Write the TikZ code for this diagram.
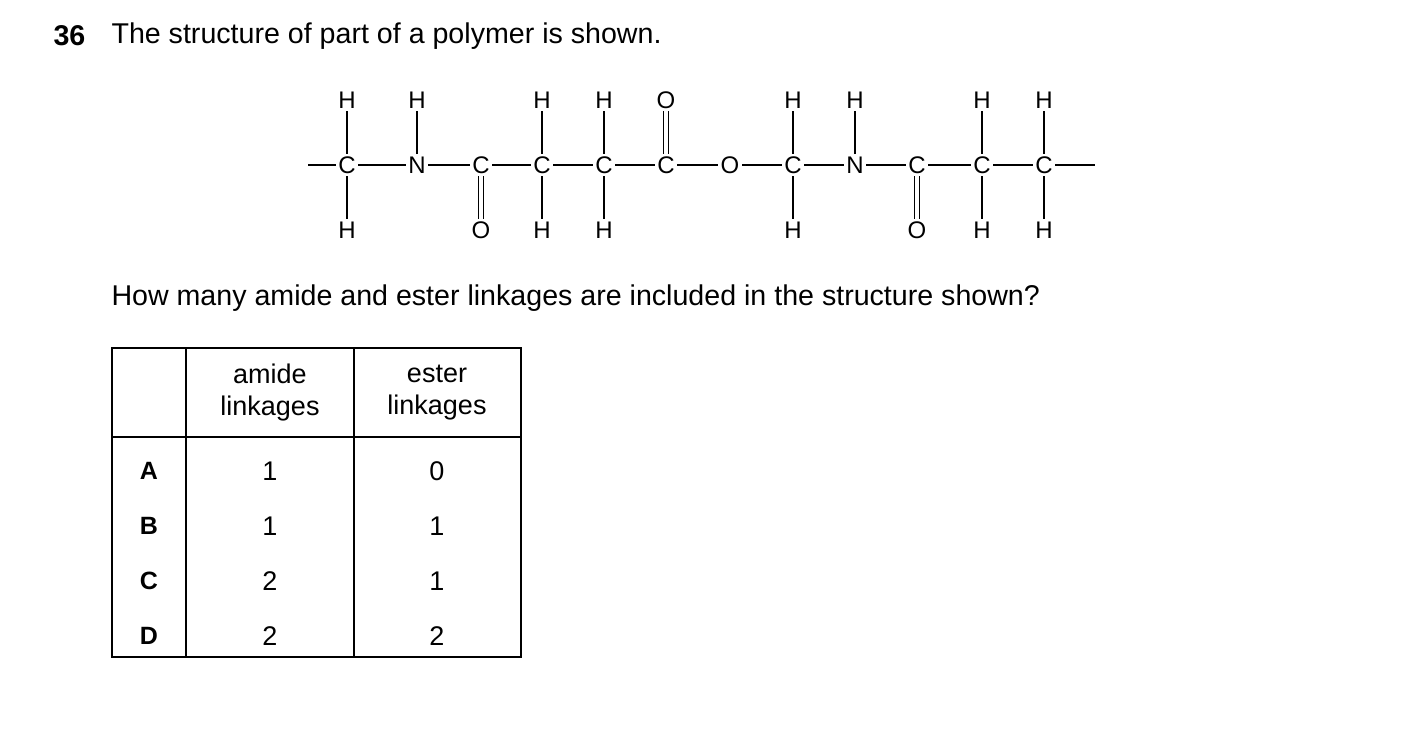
\documentclass[tikz,border=0pt]{standalone}
\usepackage{fontspec}
\setmainfont{Liberation Sans}
\begin{document}
\begin{tikzpicture}[x=1pt,y=-1pt,
 atm/.style={font=\fontsize{24}{26}\selectfont,inner sep=2.5pt},
 bd/.style={line width=1.3pt},
 tx/.style={font=\fontsize{28.6}{32}\selectfont,anchor=west},
 tb/.style={font=\fontsize{27}{32}\selectfont,align=center}]
\useasboundingbox (0,0) rectangle (1403,749);
\node[tx,font=\fontsize{28.6}{32}\selectfont\bfseries] (num) at (50,36) {36};
\node[tx] (q1) at (108,36) {The structure of part of a polymer is shown.};
\node[tx] (q2) at (108,298) {How many amide and ester linkages are included in the structure shown?};
% main chain
\def\ym{165}
\foreach \n/\x/\t in {a1/347/C,a2/417/N,a3/481/C,a4/542/C,a5/604/C,a6/666/C,a7/730/O,a8/793/C,a9/855/N,a10/917/C,a11/982/C,a12/1044/C}
  \node[atm] (\n) at (\x,\ym) {\t};
\coordinate (L) at (308,\ym); \coordinate (R) at (1095,\ym);
\draw[bd] (L) -- (a1);
\draw[bd] (a12) -- (R);
\foreach \i [evaluate=\i as \j using int(\i+1)] in {1,...,11} \draw[bd] (a\i) -- (a\j);
% top
\foreach \n/\a in {t1/a1,t2/a2,t4/a4,t5/a5,t8/a8,t9/a9,t11/a11,t12/a12}{
  \path (\a) ++(0,-65) node[atm] (\n) {H};
  \draw[bd] (\a) -- (\n);}
\path (a6) ++(0,-65) node[atm] (t6) {O};
\draw[bd] ([xshift=-2.5pt]a6.north) -- ([xshift=-2.5pt]t6.south);
\draw[bd] ([xshift=2.5pt]a6.north) -- ([xshift=2.5pt]t6.south);
% bottom
\foreach \n/\a in {b1/a1,b4/a4,b5/a5,b8/a8,b11/a11,b12/a12}{
  \path (\a) ++(0,65) node[atm] (\n) {H};
  \draw[bd] (\a) -- (\n);}
\foreach \n/\a in {b3/a3,b10/a10}{
  \path (\a) ++(0,65) node[atm] (\n) {O};
  \draw[bd] ([xshift=-2.5pt]\a.south) -- ([xshift=-2.5pt]\n.north);
  \draw[bd] ([xshift=2.5pt]\a.south) -- ([xshift=2.5pt]\n.north);}
% table
\draw[line width=1.2pt] (112,348) rectangle (521,657);
\draw[line width=1.2pt] (186,348) -- (186,657) (354,348) -- (354,657) (112,437) -- (521,437);
\node[tb] (h1) at (270,393) {amide\\linkages};
\node[tb] (h2) at (437,393) {ester\\linkages};
\foreach \l/\y/\p/\q in {A/471/1/0,B/526/1/1,C/581/2/1,D/636/2/2}{
  \node[tb,font=\fontsize{25}{30}\selectfont\bfseries] (r\l) at (149,\y) {\l};
  \node[tb] (p\l) at (270,\y) {\p};
  \node[tb] (e\l) at (437,\y) {\q};}
\end{tikzpicture}
\end{document}
